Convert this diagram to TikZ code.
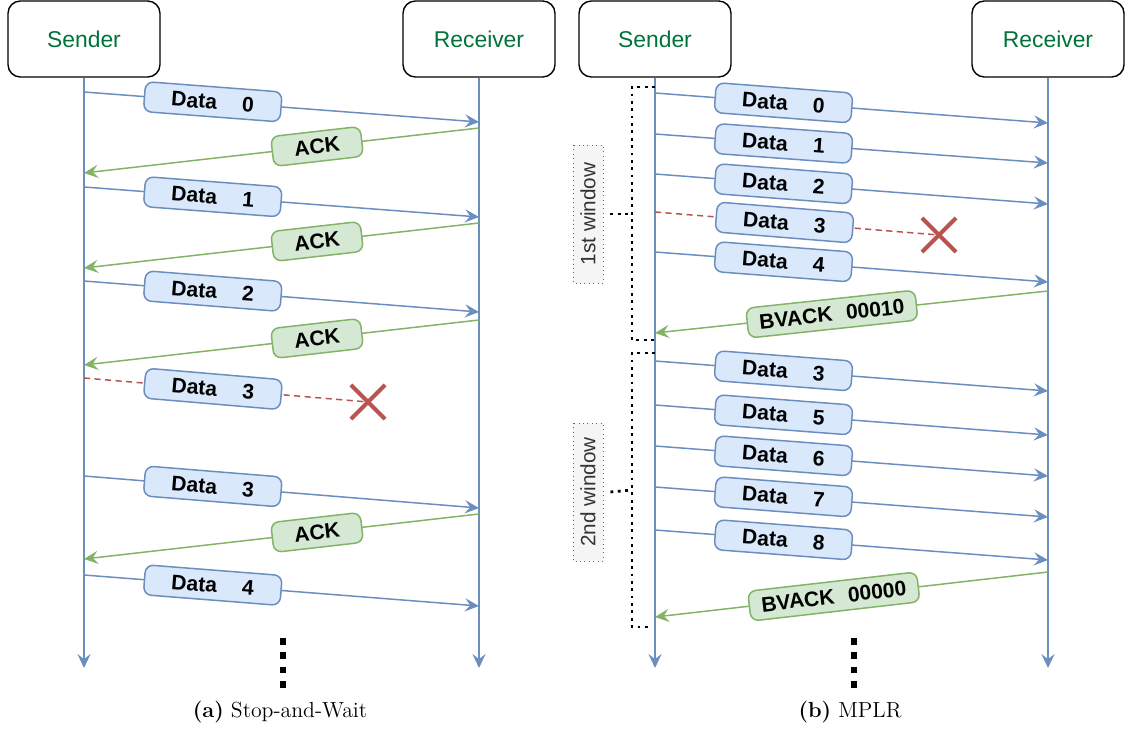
\documentclass[tikz,border=0pt]{standalone}
\usepackage{fontspec}
\usepackage{tikz}
\usetikzlibrary{arrows.meta,shapes.misc}
\newfontfamily\diagfont{Liberation Sans}

\begin{document}
\begin{tikzpicture}[x=0.02cm, y=-0.02cm,
  actor/.style={draw=black, line width=0.8pt, rounded corners=7pt, minimum width=3.04cm, minimum height=1.52cm, text=colActor, font=\diagfont\fontsize{13}{15}\selectfont},
  tip/.style={-{Stealth[length=8pt,width=7.5pt,inset=3pt]}},
  lifeline/.style={draw=colData, line width=0.85pt, tip},
  datamsg/.style={draw=colData, line width=0.85pt, tip},
  ackmsg/.style={draw=colAck, line width=0.85pt, tip},
  lostmsg/.style={draw=colLost, line width=0.85pt, dash pattern=on 3.5pt off 2.5pt},
  databox/.style={solid, draw=colData, fill=colDataFill, line width=0.85pt, rounded corners=4.5pt, minimum width=2.74cm, minimum height=0.6cm, inner sep=0pt, sloped, font=\diagfont\bfseries\fontsize{12}{14}\selectfont},
  ackbox/.style={databox, draw=colAck, fill=colAckFill, minimum width=1.8cm},
  bvackbox/.style={ackbox, minimum width=3.4cm},
  lostmark/.style={cross out, solid, draw=colLost, line width=2.3pt, minimum size=0.6cm, inner sep=0pt},
  winbracket/.style={draw=black, line width=1.6pt, dash pattern=on 1.6pt off 2.6pt},
  winlabel/.style={draw=colWinLine, fill=colWinFill, dotted, line width=0.5pt, rotate=90, minimum width=2.76cm, minimum height=0.6cm, inner sep=0pt, text=colWinText, font=\diagfont\fontsize{11.8}{14}\selectfont},
  moredots/.style={draw=black, line width=3.7pt, dash pattern=on 3.7pt off 4.5pt},
  caption/.style={font=\fontsize{12.4}{15}\selectfont}
]

% Colori
\definecolor{colData}{HTML}{6C8EBF}
\definecolor{colDataFill}{HTML}{DAE8FC}
\definecolor{colAck}{HTML}{82B366}
\definecolor{colAckFill}{HTML}{D5E8D4}
\definecolor{colLost}{HTML}{B85450}
\definecolor{colActor}{HTML}{00733A}
\definecolor{colWinFill}{HTML}{F5F5F5}
\definecolor{colWinLine}{HTML}{666666}
\definecolor{colWinText}{HTML}{333333}

\useasboundingbox (0,0) rectangle (1125,729);

% ---------------- (a) Stop-and-Wait ----------------
\node[actor] (sendA) at (84,39) {Sender};
\node[actor] (recvA) at (479,39) {Receiver};
\draw[lifeline] (sendA.south) -- (sendA |- 0,668);
\draw[lifeline] (recvA.south) -- (recvA |- 0,668);

% Data 0 / ACK
\draw[datamsg] (sendA |- 0,92) -- node[databox, pos=0.326] {Data\hspace{1.2em}0} (recvA |- 0,122);
\draw[ackmsg] (recvA |- 0,128) -- node[ackbox, pos=0.41] {ACK} (sendA |- 0,173);
% Data 1 / ACK
\draw[datamsg] (sendA |- 0,187) -- node[databox, pos=0.326] {Data\hspace{1.2em}1} (recvA |- 0,217);
\draw[ackmsg] (recvA |- 0,223) -- node[ackbox, pos=0.41] {ACK} (sendA |- 0,268);
% Data 2 / ACK
\draw[datamsg] (sendA |- 0,281) -- node[databox, pos=0.326] {Data\hspace{1.2em}2} (recvA |- 0,312);
\draw[ackmsg] (recvA |- 0,320) -- node[ackbox, pos=0.41] {ACK} (sendA |- 0,365);
% Data 3 perso
\node[lostmark] (lostA) at (368,402) {};
\draw[lostmsg] (sendA |- 0,378) -- node[databox, pos=0.454] {Data\hspace{1.2em}3} (lostA.center);
% Data 3 ritrasmesso / ACK
\draw[datamsg] (sendA |- 0,476) -- node[databox, pos=0.326] {Data\hspace{1.2em}3} (recvA |- 0,508);
\draw[ackmsg] (recvA |- 0,514) -- node[ackbox, pos=0.41] {ACK} (sendA |- 0,559);
% Data 4
\draw[datamsg] (sendA |- 0,575) -- node[databox, pos=0.326] {Data\hspace{1.2em}4} (recvA |- 0,606);

\draw[moredots] (283,638) -- (283,690);
\node[caption] (capA) at (280,712) {\textbf{(a)} Stop-and-Wait};

% ---------------- (b) MPLR ----------------
\node[actor] (sendB) at (655,39) {Sender};
\node[actor] (recvB) at (1048,39) {Receiver};
\draw[lifeline] (sendB.south) -- (sendB |- 0,668);
\draw[lifeline] (recvB.south) -- (recvB |- 0,668);

% Prima finestra
\draw[datamsg] (sendB |- 0,93) -- node[databox, pos=0.327] {Data\hspace{1.2em}0} (recvB |- 0,123);
\draw[datamsg] (sendB |- 0,134) -- node[databox, pos=0.327] {Data\hspace{1.2em}1} (recvB |- 0,163);
\draw[datamsg] (sendB |- 0,174) -- node[databox, pos=0.327] {Data\hspace{1.2em}2} (recvB |- 0,204);
\node[lostmark] (lostB) at (939,235) {};
\draw[lostmsg] (sendB |- 0,212) -- node[databox, pos=0.456] {Data\hspace{1.2em}3} (lostB.center);
\draw[datamsg] (sendB |- 0,252) -- node[databox, pos=0.327] {Data\hspace{1.2em}4} (recvB |- 0,282);
\draw[ackmsg] (recvB |- 0,291) -- node[bvackbox, pos=0.55] {BVACK\hspace{0.65em}00010} (sendB |- 0,333);

% Seconda finestra
\draw[datamsg] (sendB |- 0,361) -- node[databox, pos=0.327] {Data\hspace{1.2em}3} (recvB |- 0,391);
\draw[datamsg] (sendB |- 0,405) -- node[databox, pos=0.327] {Data\hspace{1.2em}5} (recvB |- 0,435);
\draw[datamsg] (sendB |- 0,446) -- node[databox, pos=0.327] {Data\hspace{1.2em}6} (recvB |- 0,476);
\draw[datamsg] (sendB |- 0,487) -- node[databox, pos=0.327] {Data\hspace{1.2em}7} (recvB |- 0,517);
\draw[datamsg] (sendB |- 0,530) -- node[databox, pos=0.327] {Data\hspace{1.2em}8} (recvB |- 0,560);
\draw[ackmsg] (recvB |- 0,572) -- node[bvackbox, pos=0.545] {BVACK\hspace{0.65em}00000} (sendB |- 0,617);

% Parentesi delle finestre
\coordinate (w1mid) at (632,214);
\coordinate (w2mid) at (632,490);
\draw[winbracket] (sendB |- 0,87) -| (w1mid) |- (sendB |- 0,340);
\draw[winbracket] (sendB |- 0,353) -| (w2mid) |- (648,627);
\node[winlabel] (win1) at (588,214) {1st window};
\node[winlabel] (win2) at (588,492) {2nd window};
\draw[winbracket] ([xshift=4pt]win1.south) -- (w1mid);
\draw[winbracket] ([xshift=4pt]win2.south) -- (w2mid);

\draw[moredots] (854,638) -- (854,690);
\node[caption] (capB) at (850,712) {\textbf{(b)} MPLR};

\end{tikzpicture}
\end{document}
